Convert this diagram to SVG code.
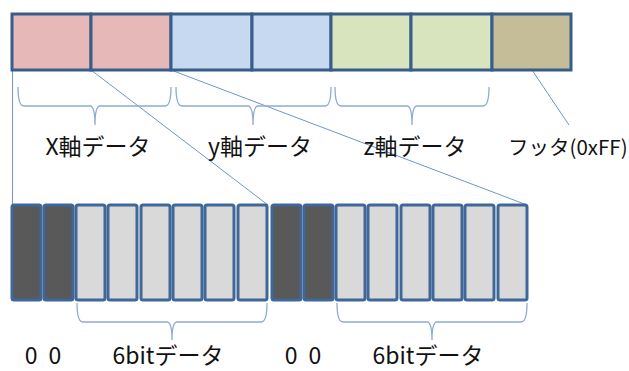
<svg xmlns="http://www.w3.org/2000/svg" width="629" height="371" viewBox="0 0 629 371">
<style>
.cell{stroke:#385D8A;stroke-width:3}
.bit{stroke:#3F6797;stroke-width:3}
.dark{fill:#595959}
.light{fill:#D9D9D9}
.brace{fill:none;stroke:#8EAAD6;stroke-width:1.3}
.conn{fill:none;stroke:#6F95CB;stroke-width:1}
.lbl{font-family:"Noto Sans CJK JP","Noto Sans",sans-serif;font-size:23px;fill:#111;text-anchor:middle}
</style>
<rect width="629" height="371" fill="#fff"/>
<g id="connectors">
<line class="conn" x1="12.5" y1="70" x2="12.5" y2="205"/>
<line class="conn" x1="91" y1="70" x2="268" y2="205"/>
<line class="conn" x1="171" y1="70" x2="527" y2="205"/>
<line class="conn" x1="532" y1="70" x2="569" y2="125"/>
</g>
<g id="top-row">
<rect class="cell" x="12" y="14" width="79" height="56" fill="#E6B9B8"/>
<rect class="cell" x="91" y="14" width="80" height="56" fill="#E6B9B8"/>
<rect class="cell" x="171" y="14" width="81" height="56" fill="#C6D9F1"/>
<rect class="cell" x="252" y="14" width="79" height="56" fill="#C6D9F1"/>
<rect class="cell" x="331" y="14" width="80" height="56" fill="#D7E4BD"/>
<rect class="cell" x="411" y="14" width="81" height="56" fill="#D7E4BD"/>
<rect class="cell" x="492" y="14" width="79" height="56" fill="#C4BD97"/>
</g>
<g id="top-braces">
<path class="brace" d="M18,87 Q18,106 24,106 L90,106 Q95,106 95,125 Q95,106 100,106 L165,106 Q171,106 171,87"/>
<path class="brace" d="M176,87 Q176,106 182,106 L248,106 Q253,106 253,125 Q253,106 258,106 L325,106 Q331,106 331,87"/>
<path class="brace" d="M335,87 Q335,106 341,106 L407,106 Q412,106 412,125 Q412,106 417,106 L483,106 Q489,106 489,87"/>
</g>
<g id="top-labels">
<text class="lbl" x="98" y="155">X軸データ</text>
<text class="lbl" x="260" y="155">y軸データ</text>
<text class="lbl" x="415" y="155">z軸データ</text>
<text class="lbl" x="508" y="155" style="text-anchor:start;font-size:20.5px">フッタ(0xFF)</text>
</g>
<g id="bottom-row">
<rect class="bit dark" x="12" y="205" width="29" height="95" rx="2"/>
<rect class="bit dark" x="44" y="205" width="29" height="95" rx="2"/>
<rect class="bit light" x="76" y="205" width="29" height="95" rx="2"/>
<rect class="bit light" x="108" y="205" width="29" height="95" rx="2"/>
<rect class="bit light" x="141" y="205" width="29" height="95" rx="2"/>
<rect class="bit light" x="173" y="205" width="29" height="95" rx="2"/>
<rect class="bit light" x="205" y="205" width="29" height="95" rx="2"/>
<rect class="bit light" x="238" y="205" width="29" height="95" rx="2"/>
<rect class="bit dark" x="272" y="205" width="29" height="95" rx="2"/>
<rect class="bit dark" x="304" y="205" width="29" height="95" rx="2"/>
<rect class="bit light" x="336" y="205" width="29" height="95" rx="2"/>
<rect class="bit light" x="368" y="205" width="29" height="95" rx="2"/>
<rect class="bit light" x="401" y="205" width="29" height="95" rx="2"/>
<rect class="bit light" x="433" y="205" width="29" height="95" rx="2"/>
<rect class="bit light" x="465" y="205" width="29" height="95" rx="2"/>
<rect class="bit light" x="498" y="205" width="29" height="95" rx="2"/>
</g>
<g id="bottom-braces">
<path class="brace" d="M77,303 Q77,322 83,322 L167,322 Q172,322 172,340 Q172,322 177,322 L261,322 Q267,322 267,303"/>
<path class="brace" d="M337,303 Q337,322 343,322 L427,322 Q432,322 432,340 Q432,322 437,322 L521,322 Q527,322 527,303"/>
</g>
<g id="bottom-labels">
<text class="lbl" x="43" y="364" word-spacing="6">0 0</text>
<text class="lbl" x="168" y="364">6bitデータ</text>
<text class="lbl" x="303" y="364" word-spacing="6">0 0</text>
<text class="lbl" x="428" y="364">6bitデータ</text>
</g>
</svg>
